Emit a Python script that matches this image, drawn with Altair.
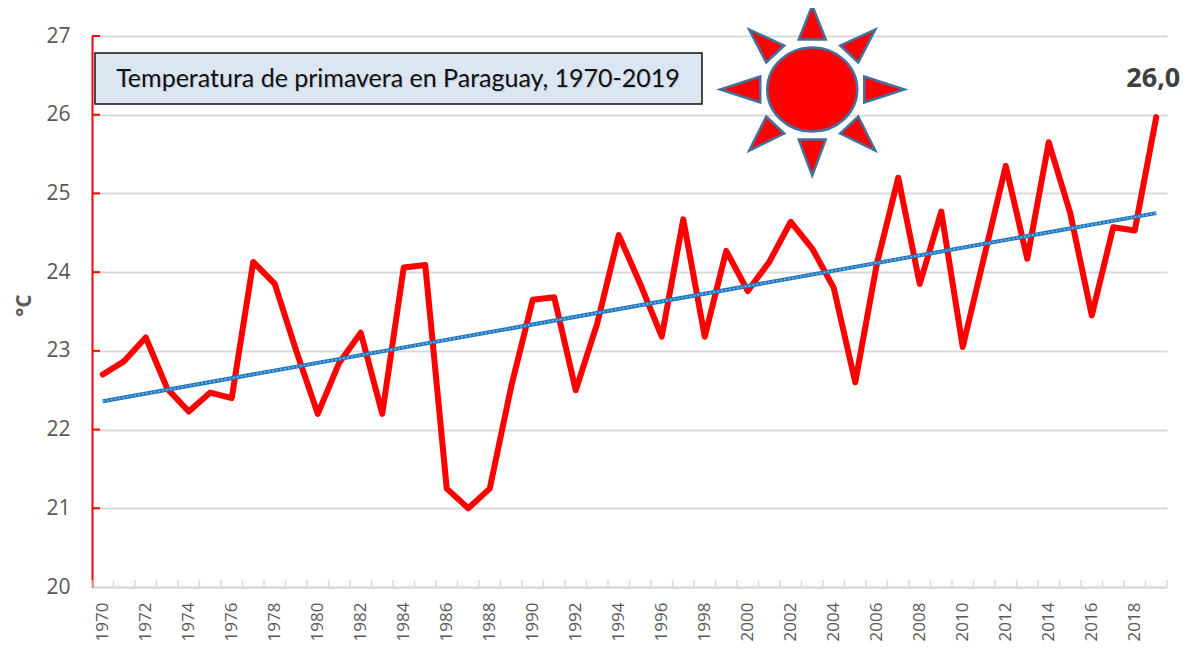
import altair as alt
import pandas as pd

years = list(range(1970, 2020))
temps = [22.70, 22.87, 23.17, 22.52, 22.23, 22.47, 22.40, 24.13, 23.85, 23.00,
         22.20, 22.85, 23.23, 22.20, 24.06, 24.09, 21.25, 21.00, 21.25, 22.55,
         23.65, 23.68, 22.50, 23.35, 24.47, 23.85, 23.18, 24.67, 23.18, 24.27,
         23.76, 24.13, 24.64, 24.30, 23.80, 22.60, 24.10, 25.20, 23.85, 24.77,
         23.05, 24.20, 25.35, 24.17, 25.65, 24.75, 23.45, 24.57, 24.53, 25.97]
trend_years = [1970, 2019]
trend_values = [22.36, 24.75]
y_ticks = [20, 21, 22, 23, 24, 25, 26, 27]
x_labels = list(range(1970, 2019, 2))
tick_edges = [y - 0.5 for y in years] + [2019.5]
title_text = "Temperatura de primavera en Paraguay, 1970-2019"
last_label = "26,0"

GREY = "#d9d9d9"
TXT = "#595959"

df = pd.DataFrame({"year": years, "temp": temps})
trend = pd.DataFrame({"year": trend_years, "temp": trend_values})

xs = alt.Scale(domain=[1969.5, 2019.5], nice=False, zero=False)
ys = alt.Scale(domain=[20, 27], nice=False, zero=False)

x_enc = alt.X("year:Q", scale=xs, title=None,
              axis=alt.Axis(values=x_labels, format="d", labelAngle=-90, labelFontSize=17,
                            labelColor=TXT, labelFont="Open Sans", tickSize=0, labelPadding=15,
                            grid=False, domainColor=GREY, domainWidth=2, labelOverlap=False,
                            labelFlush=False))
y_enc = alt.Y("temp:Q", scale=ys, title="°C",
              axis=alt.Axis(values=y_ticks, format="d", labelFontSize=21, labelColor=TXT,
                            labelFont="Open Sans",
                            tickSize=0, labelPadding=22, grid=True, gridColor=GREY, gridWidth=2,
                            domainColor="#ff0000", domainWidth=2,
                            titleFontSize=21, titleFont="Open Sans", titleColor=TXT,
                            titleFontWeight="bold", titleX=-68, titleY=269,
                            titleAlign="center", titleBaseline="middle"))

base = alt.Chart(df).mark_line(opacity=0).encode(x=x_enc, y=y_enc)

x_ticks = alt.Chart(pd.DataFrame({"edge": tick_edges})).mark_rule(color=GREY, strokeWidth=1.5).encode(
    x=alt.X("edge:Q", scale=xs), y=alt.value(544), y2=alt.value(551))
y_tick_marks = alt.Chart(pd.DataFrame({"v": y_ticks[1:]})).mark_rule(color="#ff0000", strokeWidth=2).encode(
    y=alt.Y("v:Q", scale=ys), x=alt.value(0), x2=alt.value(8))

box = alt.Chart(pd.DataFrame({"t": [title_text]})).mark_rect(
    fill="#dce6f2", stroke="#111111", strokeWidth=1.5).encode(
    x=alt.value(3), x2=alt.value(610), y=alt.value(17), y2=alt.value(68))
box_shadow = alt.Chart(pd.DataFrame({"t": [title_text]})).mark_text(
    font="Lato", fontSize=25, color="#9aa5b1", opacity=0.5, align="center", baseline="middle").encode(
    x=alt.value(307), y=alt.value(44), text="t:N")
box_text = alt.Chart(pd.DataFrame({"t": [title_text]})).mark_text(
    font="Lato", fontSize=25, color="#111111", align="center", baseline="middle").encode(
    x=alt.value(306), y=alt.value(42.5), text="t:N")

sun_path = ("M-.45,0A.45,.42,0,1,0,.45,0A.45,.42,0,1,0,-.45,0Z"
            "M0,-.84L-.135,-.5L.135,-.5Z"
            "M0,.86L-.135,.5L.135,.5Z"
            "M.92,0L.52,-.13L.52,.13Z"
            "M-.92,0L-.52,-.13L-.52,.13Z"
            "M.63,-.6L.28,-.44L.46,-.27Z"
            "M-.63,-.6L-.28,-.44L-.46,-.27Z"
            "M.63,.61L.28,.44L.46,.27Z"
            "M-.63,.61L-.28,.44L-.46,.27Z")
sun = alt.Chart(pd.DataFrame({"year": [2003.0], "temp": [26.32]})).mark_point(
    shape=sun_path, size=40000, filled=True, fill="#ff0000", stroke="#41719c",
    strokeWidth=2.5, opacity=1).encode(
    x=alt.X("year:Q", scale=xs), y=alt.Y("temp:Q", scale=ys))

line = alt.Chart(df).mark_line(color="#ff0000", strokeWidth=6, strokeCap="round", strokeJoin="round").encode(
    x=alt.X("year:Q", scale=xs), y=alt.Y("temp:Q", scale=ys))
trend_a = alt.Chart(trend).mark_line(color="#1f78c1", strokeWidth=4).encode(
    x=alt.X("year:Q", scale=xs), y=alt.Y("temp:Q", scale=ys))
trend_b = alt.Chart(trend).mark_line(color="#7db4dd", strokeWidth=1.5, strokeDash=[2, 2]).encode(
    x=alt.X("year:Q", scale=xs), y=alt.Y("temp:Q", scale=ys))

label = alt.Chart(pd.DataFrame({"year": [2019], "temp": [25.97], "t": [last_label]})).mark_text(
    font="Open Sans", fontSize=27, fontWeight="bold", color="#404040", dy=-38, dx=-3, align="center",
    baseline="middle").encode(
    x=alt.X("year:Q", scale=xs), y=alt.Y("temp:Q", scale=ys), text="t:N")

chart = alt.layer(base, x_ticks, y_tick_marks, box, box_shadow, box_text, sun, line, trend_a, trend_b, label).properties(
    width=1075, height=551,
    padding={"left": 84, "top": 28, "right": 14, "bottom": 56},
    autosize=alt.AutoSizeParams(type="none"),
    background="white",
).configure_view(stroke=None)

chart.save("out.html", embed_options={"renderer": "svg", "actions": False})
